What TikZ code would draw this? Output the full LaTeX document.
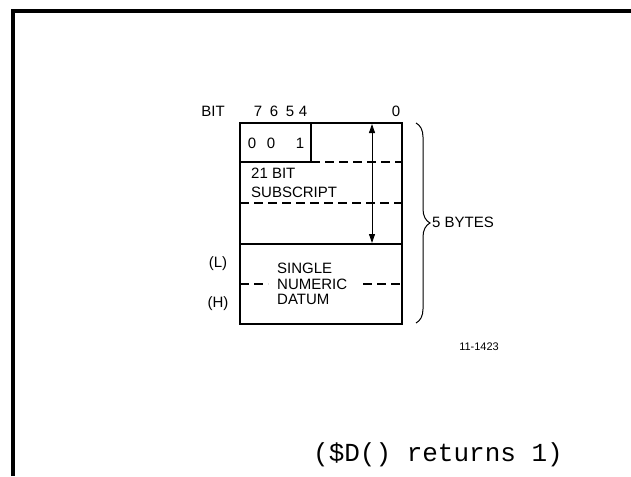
\documentclass[tikz,border=0pt]{standalone}
\usepackage{fontspec}
\setmainfont{Liberation Sans}
\newfontfamily\monof{Liberation Mono}
\usetikzlibrary{arrows.meta,decorations.pathreplacing}
\tikzset{
  lbl/.style={inner sep=0pt, font=\fontsize{15}{16}\selectfont},
  boxline/.style={line width=1.8pt},
  dashline/.style={line width=1.4pt, dash pattern=on 9pt off 5pt},
  frameline/.style={line width=4pt},
}
\begin{document}
\begin{tikzpicture}[x=1pt,y=-1pt]
\useasboundingbox (0,0) rectangle (631,476);
% outer frame (top and left visible)
\draw[frameline] (13,476) -- (13,11) -- (631,11);
% box
\coordinate (tl) at (240,123);
\coordinate (br) at (402,324);
\draw[boxline] (tl) rectangle (br);
\draw[boxline] (240,244) -- (402,244);
\draw[line width=1.2pt] (311,123) -- (311,162) -- (240,162);
\draw[dashline] (311,162) -- (402,162);
\draw[dashline] (240,203) -- (402,203);
\draw[dashline] (240,284) -- (268,284);
\draw[dashline] (363,284) -- (402,284);
% arrow
\coordinate (at) at (372,124);
\coordinate (ab) at (372,243);
\draw[line width=0.9pt, {Triangle[length=9pt,width=6pt]}-{Triangle[length=9pt,width=6pt]}] (at) -- (ab);
% labels
\node[lbl] (bit) at (213,111) {BIT};
\node[lbl] (b7) at (258,111) {7};
\node[lbl] (b6) at (274,111) {6};
\node[lbl] (b5) at (290,111) {5};
\node[lbl] (b4) at (303,111) {4};
\node[lbl] (b0) at (396,111) {0};
\node[lbl] (z1) at (252,143) {0};
\node[lbl] (z2) at (271,143) {0};
\node[lbl] (o1) at (300,143) {1};
\node[lbl, anchor=west] (t21) at (251,173) {21 BIT};
\node[lbl, anchor=west] (sub) at (251,192) {SUBSCRIPT};
\node[lbl, anchor=west] (sng) at (277,268) {SINGLE};
\node[lbl, anchor=west] (num) at (277,284) {NUMERIC};
\node[lbl, anchor=west] (dat) at (277,299) {DATUM};
\node[lbl] (L) at (218,264) {(L)};
\node[lbl] (H) at (218,304) {(H)};
% brace
\coordinate (bt) at (416,123);
\coordinate (bb) at (416,323);
\draw[line width=1pt, decorate, decoration={brace, amplitude=14pt}] (bt) -- (bb);
\node[lbl, anchor=west] (bytes) at (432,222) {5 BYTES};
\node[inner sep=0pt, font=\fontsize{11}{12}\selectfont, anchor=east] (fig) at (499,347) {11-1423};
\node[inner sep=0pt, font=\monof\fontsize{26}{28}\selectfont] (ret) at (438,455) {(\$D() returns 1)};
\end{tikzpicture}
\end{document}
